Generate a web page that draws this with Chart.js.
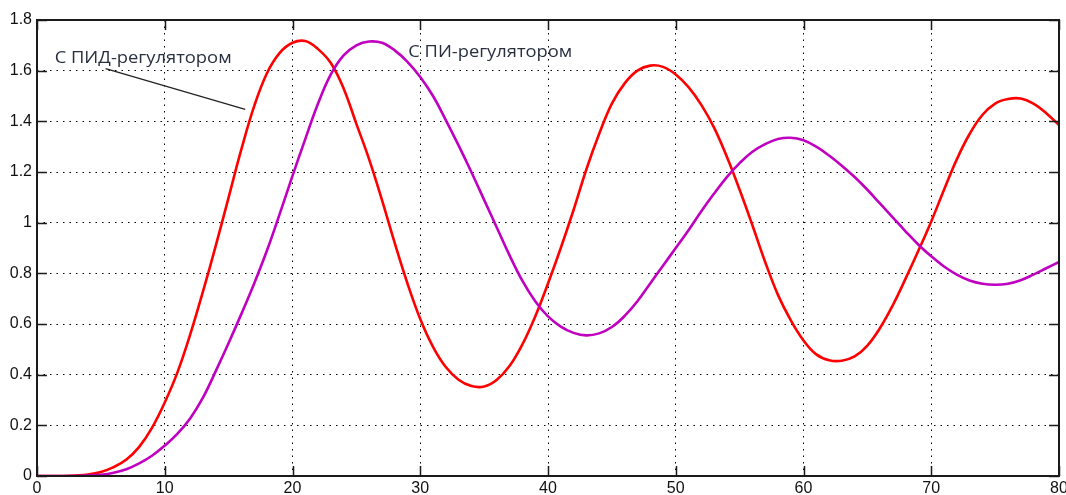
<!DOCTYPE html>
<html>
<head>
<meta charset="utf-8">
<script src="https://cdn.jsdelivr.net/npm/chart.js@4"></script>
<style>
  html, body { margin: 0; padding: 0; background: #fff; }
  #wrap { width: 1066px; height: 495px; position: relative; }
</style>
</head>
<body>
<div id="wrap"><canvas id="respChart"></canvas></div>
<script>
// Time axis (one sample per unit) and both step responses
const timeS = [0, 1, 2, 3, 4, 5, 6, 7, 8, 9, 10, 11, 12, 13, 14, 15, 16, 17, 18, 19, 20,
    21, 22, 23, 24, 25, 26, 27, 28, 29, 30, 31, 32, 33, 34, 35, 36, 37, 38, 39, 40,
    41, 42, 43, 44, 45, 46, 47, 48, 49, 50, 51, 52, 53, 54, 55, 56, 57, 58, 59, 60,
    61, 62, 63, 64, 65, 66, 67, 68, 69, 70, 71, 72, 73, 74, 75, 76, 77, 78, 79, 80];

const pidY = [0, 0, 0, 0.002, 0.006, 0.016, 0.035, 0.065, 0.115, 0.19, 0.29,
    0.41, 0.56, 0.73, 0.91, 1.1, 1.29, 1.46, 1.59, 1.67, 1.71,
    1.717, 1.685, 1.63, 1.53, 1.39, 1.25, 1.09, 0.92, 0.76, 0.62,
    0.51, 0.43, 0.38, 0.355, 0.353, 0.38, 0.435, 0.52, 0.63, 0.76,
    0.9, 1.05, 1.21, 1.35, 1.47, 1.55, 1.6, 1.62, 1.615, 1.585,
    1.535, 1.465, 1.375, 1.26, 1.13, 0.99, 0.845, 0.715, 0.615, 0.535,
    0.48, 0.457, 0.455, 0.472, 0.515, 0.585, 0.675, 0.78, 0.89, 1.005,
    1.13, 1.25, 1.35, 1.425, 1.47, 1.488, 1.49, 1.47, 1.432, 1.385];

const piY = [0, 0, 0, 0, 0.002, 0.005, 0.013, 0.027, 0.05, 0.08, 0.12,
    0.167, 0.228, 0.31, 0.415, 0.525, 0.64, 0.76, 0.89, 1.035, 1.185,
    1.33, 1.47, 1.585, 1.66, 1.70, 1.715, 1.71, 1.68, 1.635, 1.575,
    1.5, 1.405, 1.305, 1.2, 1.09, 0.98, 0.87, 0.77, 0.69, 0.63,
    0.59, 0.565, 0.555, 0.563, 0.588, 0.632, 0.69, 0.76, 0.83, 0.9,
    0.97, 1.045, 1.115, 1.18, 1.235, 1.28, 1.31, 1.33, 1.335, 1.325,
    1.3, 1.265, 1.225, 1.18, 1.13, 1.075, 1.02, 0.965, 0.913, 0.867,
    0.827, 0.795, 0.772, 0.759, 0.755, 0.759, 0.773, 0.795, 0.82, 0.845];

const xTicks = [0, 10, 20, 30, 40, 50, 60, 70, 80];
const yTicks = [0, 0.2, 0.4, 0.6, 0.8, 1, 1.2, 1.4, 1.6, 1.8];

const pidLabel = 'С ПИД-регулятором';
const piLabel = 'С ПИ-регулятором';

const toPoints = (xs, ys) => xs.map((x, i) => ({ x: x, y: ys[i] }));

// Box around the plot and inward ticks on all four sides
const frameAndTicks = {
    id: 'frameAndTicks',
    afterDatasetsDraw(chart) {
        const { ctx, chartArea: a, scales } = chart;
        const len = 10;
        ctx.save();
        ctx.strokeStyle = '#1a1a1a';
        ctx.lineWidth = 1.5;
        ctx.beginPath();
        xTicks.forEach(v => {
            const px = Math.round(scales.x.getPixelForValue(v)) + 0.5;
            ctx.moveTo(px, a.bottom); ctx.lineTo(px, a.bottom - len);
            ctx.moveTo(px, a.top); ctx.lineTo(px, a.top + len);
        });
        yTicks.forEach(v => {
            const py = Math.round(scales.y.getPixelForValue(v)) + 0.5;
            ctx.moveTo(a.left, py); ctx.lineTo(a.left + len, py);
            ctx.moveTo(a.right, py); ctx.lineTo(a.right - len, py);
        });
        ctx.stroke();
        ctx.lineWidth = 2;
        ctx.strokeRect(a.left, a.top, a.right - a.left, a.bottom - a.top);
        ctx.restore();
    }
};

// Text labels of the two curves plus the pointer line
const curveNotes = {
    id: 'curveNotes',
    afterDatasetsDraw(chart) {
        const { ctx, scales } = chart;
        const sx = v => scales.x.getPixelForValue(v);
        const sy = v => scales.y.getPixelForValue(v);
        ctx.save();
        ctx.strokeStyle = '#222';
        ctx.lineWidth = 1.2;
        ctx.beginPath();
        ctx.moveTo(sx(5.37), sy(1.608));
        ctx.lineTo(sx(16.3), sy(1.447));
        ctx.stroke();

        ctx.fillStyle = '#283040';
        ctx.font = '17px "Open Sans"';
        ctx.textBaseline = 'alphabetic';
        const drawFit = (text, x, y, w) => {
            const k = w / ctx.measureText(text).width;
            ctx.save();
            ctx.translate(x, y);
            ctx.scale(k, 1);
            ctx.fillText(text, 0, 0);
            ctx.restore();
        };
        drawFit(pidLabel, sx(1.38), sy(1.629), 177);
        drawFit(piLabel, sx(29.06), sy(1.652), 164);
        ctx.restore();
    }
};

const chart = new Chart(document.getElementById('respChart'), {
    type: 'line',
    data: {
        datasets: [
            {
                label: piLabel,
                data: toPoints(timeS, piY),
                borderColor: '#c000c0',
                borderWidth: 2.6,
                pointRadius: 0,
                tension: 0.4,
                order: 0
            },
            {
                label: pidLabel,
                data: toPoints(timeS, pidY),
                borderColor: '#ff0000',
                borderWidth: 2.6,
                pointRadius: 0,
                tension: 0.4,
                order: 1
            }
        ]
    },
    options: {
        responsive: true,
        maintainAspectRatio: false,
        animation: false,
        layout: { padding: { top: 20, right: 7, left: 0, bottom: 0 } },
        plugins: {
            legend: { display: false },
            tooltip: { enabled: false }
        },
        scales: {
            x: {
                type: 'linear',
                min: 0,
                max: 80,
                afterBuildTicks: s => { s.ticks = xTicks.map(v => ({ value: v })); },
                afterFit: s => { s.height = 19; s.paddingLeft = 0; s.paddingRight = 0; },
                grid: { color: '#000', lineWidth: 1, drawTicks: false },
                border: { display: false, dash: [1.5, 5] },
                ticks: {
                    padding: 3,
                    color: '#111',
                    font: { family: 'Liberation Sans', size: 16 },
                    maxRotation: 0,
                    callback: v => String(v)
                }
            },
            y: {
                min: 0,
                max: 1.8,
                afterBuildTicks: s => { s.ticks = yTicks.map(v => ({ value: v })); },
                afterFit: s => { s.width = 37; },
                grid: { color: '#000', lineWidth: 1, drawTicks: false },
                border: { display: false, dash: [1.5, 5] },
                ticks: {
                    padding: 5,
                    color: '#111',
                    font: { family: 'Liberation Sans', size: 16 },
                    callback: v => String(Math.round(v * 10) / 10)
                }
            }
        }
    },
    plugins: [frameAndTicks, curveNotes]
});
</script>
</body>
</html>
